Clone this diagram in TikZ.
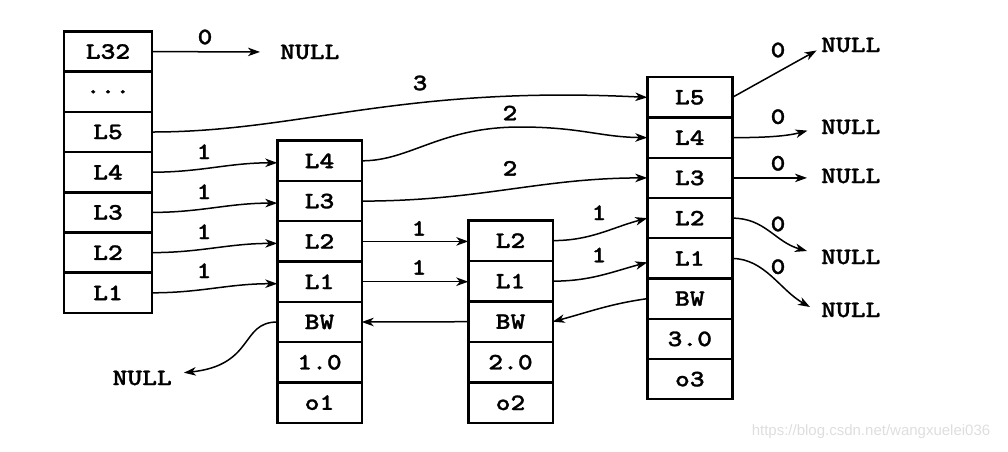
\documentclass[tikz,border=0pt]{standalone}
\usepackage{fontspec}
\newfontfamily\cour{lmmonolt10-bold}[Extension=.otf, FakeStretch=1.2, FakeBold=1.2]
\newfontfamily\wmfont{Liberation Sans}
\usetikzlibrary{arrows.meta}
\begin{document}
\begin{tikzpicture}[x=1pt,y=-1pt,
  txt/.style={font=\fontsize{23.5}{23.5}\selectfont\cour},
  cell/.style={txt, draw, line width=2.4pt, inner sep=0pt, outer sep=0pt, minimum height=40.3pt},
  colA/.style={cell, minimum width=88pt},
  colB/.style={cell, minimum width=84.4pt},
  colC/.style={cell, minimum width=84.4pt, minimum height=40.55pt},
  colD/.style={cell, minimum width=85pt, minimum height=40.25pt},
  nul/.style={txt, inner sep=0pt},
  lab/.style={txt, inner sep=0pt},
  conn/.style={line width=1.5pt, -{Stealth[length=12pt,width=8.5pt,inset=3.5pt]}},
]
\useasboundingbox (0,0) rectangle (1008,451);
% left header column
\node[colA] (a32) at (108,51.6) {L32};
\node[colA] (adots) at (108,91.8) {...};
\node[colA] (a5) at (108,132) {L5};
\node[colA] (a4) at (108,172.2) {L4};
\node[colA] (a3) at (108,212.4) {L3};
\node[colA] (a2) at (108,252.6) {L2};
\node[colA] (a1) at (108,292.8) {L1};
% node o1
\node[colB] (b4) at (319.5,160.8) {L4};
\node[colB] (b3) at (319.5,201.1) {L3};
\node[colB] (b2) at (319.5,241.4) {L2};
\node[colB] (b1) at (319.5,281.7) {L1};
\node[colB] (bbw) at (319.5,322) {BW};
\node[colB] (bsc) at (319.5,362.3) {1.0};
\node[colB] (bo) at (319.5,402.6) {o1};
% node o2
\node[colC] (c2) at (510.5,240.6) {L2};
\node[colC] (c1) at (510.5,281.15) {L1};
\node[colC] (cbw) at (510.5,321.7) {BW};
\node[colC] (csc) at (510.5,362.25) {2.0};
\node[colC] (co) at (510.5,402.8) {o2};
% node o3
\node[colD] (d5) at (689.8,97.4) {L5};
\node[colD] (d4) at (689.8,137.65) {L4};
\node[colD] (d3) at (689.8,177.9) {L3};
\node[colD] (d2) at (689.8,218.15) {L2};
\node[colD] (d1) at (689.8,258.4) {L1};
\node[colD] (dbw) at (689.8,298.65) {BW};
\node[colD] (dsc) at (689.8,338.9) {3.0};
\node[colD] (do) at (689.8,379.15) {o3};
% NULLs
\node[nul, anchor=west] (nl0) at (280,52) {NULL};
\node[nul, anchor=west] (n5) at (821,45) {NULL};
\node[nul, anchor=west] (n4) at (821,127) {NULL};
\node[nul, anchor=west] (n3) at (821,176) {NULL};
\node[nul, anchor=west] (n2) at (821,257) {NULL};
\node[nul, anchor=west] (n1) at (821,310) {NULL};
\node[nul, anchor=east] (nbw) at (172,378) {NULL};
% connectors
\draw[conn, shorten >=20pt] (a32.east) -- (nl0.west);
\draw[conn] (a5.east) .. controls (300,132) and (400,85) .. (d5.west);
\draw[conn] (a4.east) to[out=0,in=180] ([yshift=-2pt]b4.west);
\draw[conn] (a3.east) to[out=0,in=180] ([yshift=-2pt]b3.west);
\draw[conn] (a2.east) to[out=0,in=180] ([yshift=-2pt]b2.west);
\draw[conn] (a1.east) to[out=0,in=180] ([yshift=-2pt]b1.west);
\draw[conn] (b4.east) .. controls (410,161) and (440,127) .. (520,127) .. controls (580,127) and (600,137) .. (d4.west);
\draw[conn] (b3.east) .. controls (480,201) and (540,178) .. (d3.west);
\draw[conn] (b2.east) -- (b2.east -| c2.west);
\draw[conn] (b1.east) -- (b1.east -| c1.west);
\draw[conn] (cbw.west) -- (bbw.east);
\draw[conn] (c2.east) to[out=0,in=195] (d2.west);
\draw[conn] (c1.east) to[out=0,in=195] ([yshift=-4pt]d1.west);
\draw[conn] (dbw.west) to[out=188,in=15] (cbw.east);
\draw[conn, shorten >=12pt] (bbw.west) .. controls (240,322) and (255,365) .. ([yshift=4pt]nbw.east);
\draw[conn, shorten >=5pt] (d5.east) -- ([yshift=-3pt]n5.west);
\draw[conn, shorten >=14pt] (d4.east) to[out=0,in=195] (n4.west);
\draw[conn, shorten >=14pt] (d3.east) -- (d3.east -| n3.west);
\draw[conn] (d2.east) .. controls (765,218) and (775,242) .. ([xshift=-14pt,yshift=6pt]n2.west);
\draw[conn] (d1.east) .. controls (765,259) and (780,290) .. ([xshift=-11pt,yshift=3pt]n1.west);
% labels
\node[lab] (t0) at (205,37) {0};
\node[lab] (t3) at (420,83) {3};
\node[lab] (t1a) at (204,151.7) {1};
\node[lab] (t1b) at (204,191.7) {1};
\node[lab] (t1c) at (204,231.7) {1};
\node[lab] (t1d) at (204,270.7) {1};
\node[lab] (t2a) at (510,113) {2};
\node[lab] (t2b) at (510,168.3) {2};
\node[lab] (t1e) at (419,228.3) {1};
\node[lab] (t1f) at (419,267.3) {1};
\node[lab] (t1g) at (599,212.7) {1};
\node[lab] (t1h) at (599,255) {1};
\node[lab] (r0a) at (778,50) {0};
\node[lab] (r0b) at (778,116.7) {0};
\node[lab] (r0c) at (778,163.3) {0};
\node[lab] (r0d) at (778,224) {0};
\node[lab] (r0e) at (778,266.7) {0};
% watermark
\node[font=\wmfont\fontsize{15}{15}\selectfont, text=black!13, inner sep=0pt] (wm) at (871,432) {https://blog.csdn.net/wangxuelei036};
\end{tikzpicture}
\end{document}
